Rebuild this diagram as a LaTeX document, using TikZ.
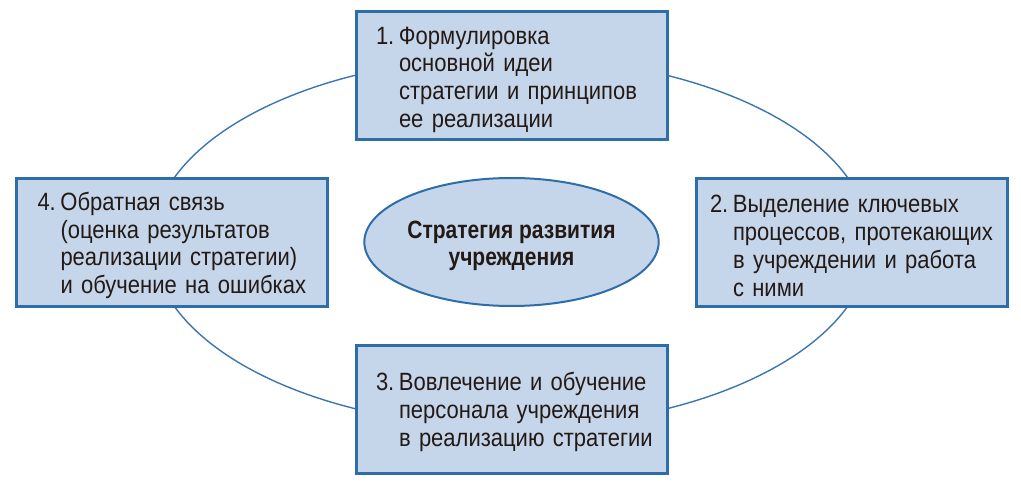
\documentclass[tikz,border=0pt]{standalone}
\usepackage{fontspec}
\setmainfont{Liberation Sans}[FakeStretch=0.88]
\newfontfamily\condfont{Liberation Sans}[FakeStretch=0.84]
\usetikzlibrary{shapes.geometric}
\definecolor{boxfill}{RGB}{197,213,234}
\definecolor{boxline}{RGB}{46,110,168}
\definecolor{ringline}{RGB}{60,118,176}
\definecolor{txt}{RGB}{35,26,22}
\newcommand{\num}[2][20pt]{\rule{0pt}{24.3pt}\hspace*{#1}\makebox[23pt][l]{#2}}
\newcommand{\ind}[1][20pt]{\hspace*{\dimexpr#1+23pt\relax}}
\begin{document}
\begin{tikzpicture}[x=1pt,y=-1pt,
  stepbox/.style={draw=boxline, line width=3pt, fill=boxfill, rectangle,
    minimum height=128pt, minimum width=311pt, text width=311pt,
    inner xsep=0pt, inner ysep=0pt,
    align=left, text=txt, font=\fontsize{25}{27.7}\selectfont},
  hub/.style={draw=boxline, line width=2pt, fill=boxfill, ellipse,
    minimum width=285pt, minimum height=128pt, inner sep=0pt, align=center,
    text=txt, font=\condfont\bfseries\fontsize{25}{27}\selectfont},
  ring/.style={draw=ringline, line width=1.4pt}]
\useasboundingbox (0,0) rectangle (1021,484);
\draw[ring] (511,242) ellipse [x radius=359pt, y radius=185pt];
\node[stepbox] (b1) at (511.5,76)
  {\num{1.}Формулировка\\\ind основной идеи\\\ind стратегии и принципов\\\ind ее реализации};
\node[stepbox] (b2) at (851.5,242.5)
  {\num[14pt]{2.}Выделение ключевых\\\ind[14pt]процессов, протекающих\\\ind[14pt]в учреждении и работа\\\ind[14pt]с ними};
\node[stepbox] (b3) at (511.5,409)
  {\num{3.}Вовлечение и обучение\\\ind персонала учреждения\\\ind в реализацию стратегии};
\node[stepbox] (b4) at (172,242.5)
  {\num[21pt]{4.}Обратная связь\\\ind[21pt](оценка результатов\\\ind[21pt]реализации стратегии)\\\ind[21pt]и обучение на ошибках};
\node[hub] (c) at (511.5,242) {\rule{0pt}{24.3pt}Стратегия развития\\учреждения};
\end{tikzpicture}
\end{document}
